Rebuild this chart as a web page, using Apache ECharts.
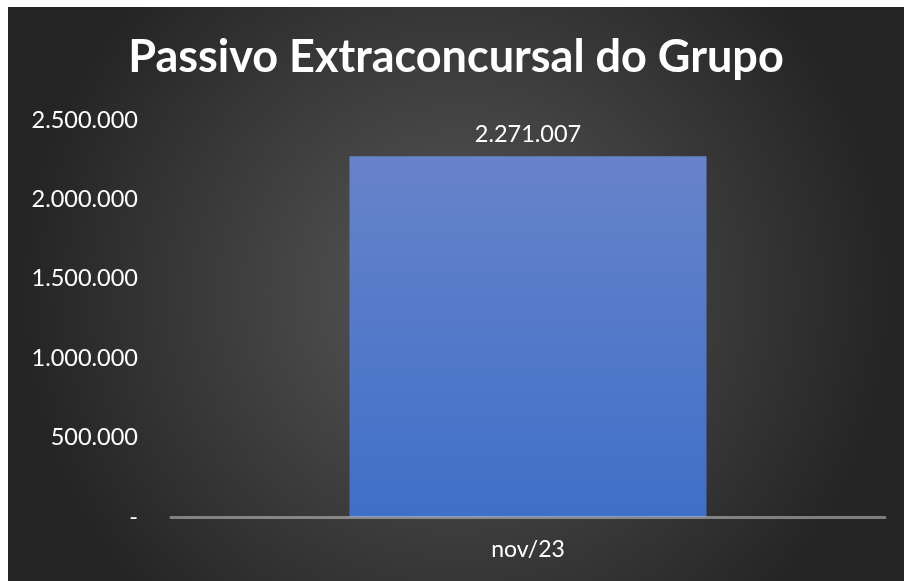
<!DOCTYPE html>
<html>
<head>
<meta charset="utf-8">
<script src="https://cdn.jsdelivr.net/npm/echarts@6/dist/echarts.min.js"></script>
<style>
html,body{margin:0;padding:0;background:#ffffff;width:904px;height:581px;overflow:hidden;}
#chart{position:absolute;left:8px;top:7px;width:896px;height:574px;}
</style>
</head>
<body>
<div id="chart"></div>
<script>
const titleText = 'Passivo Extraconcursal do Grupo';
const categories = ['nov/23'];
const values = [2271007];
const yTicks = [0, 500000, 1000000, 1500000, 2000000, 2500000];

function fmt(v){
  if (v === 0) return '-';
  return String(Math.round(v)).replace(/\B(?=(\d{3})+(?!\d))/g, '.');
}

const chart = echarts.init(document.getElementById('chart'), null, {renderer:'canvas'});
chart.setOption({
  backgroundColor: {
    type: 'radial', x: 0.5, y: 0.5, r: 0.75,
    colorStops: [{offset: 0, color: '#585858'}, {offset: 1, color: '#252525'}]
  },
  title: {
    text: titleText, left: 'center', top: 23,
    textStyle: {color: '#ffffff', fontFamily: 'Lato', fontWeight: 'bold', fontSize: 45}
  },
  grid: {left: 163, right: 19, top: 113, bottom: 64, containLabel: false},
  xAxis: {
    type: 'category', data: categories, z: 5,
    axisLine: {show: true, lineStyle: {color: 'rgba(200,200,200,0.55)', width: 3}},
    axisTick: {show: false},
    axisLabel: {color: '#ffffff', fontFamily: 'Lato', fontSize: 23, margin: 21}
  },
  yAxis: {
    type: 'value', min: yTicks[0], max: yTicks[yTicks.length-1], interval: yTicks[1]-yTicks[0],
    axisLine: {show: false}, axisTick: {show: false}, splitLine: {show: false},
    axisLabel: {color: '#ffffff', fontFamily: 'Lato', fontSize: 23.5, margin: 33, formatter: fmt}
  },
  series: [{
    type: 'bar', data: values, barWidth: '50%',
    itemStyle: {color: {type: 'linear', x: 0, y: 0, x2: 0, y2: 1,
      colorStops: [{offset: 0, color: '#6783CA'}, {offset: 1, color: '#3F6FC8'}]}},
    label: {show: true, position: 'top', distance: 10, color: '#ffffff', fontFamily: 'Lato', fontSize: 23.5,
      formatter: p => fmt(p.value)}
  }],
  animation: false
});
</script>
</body>
</html>
